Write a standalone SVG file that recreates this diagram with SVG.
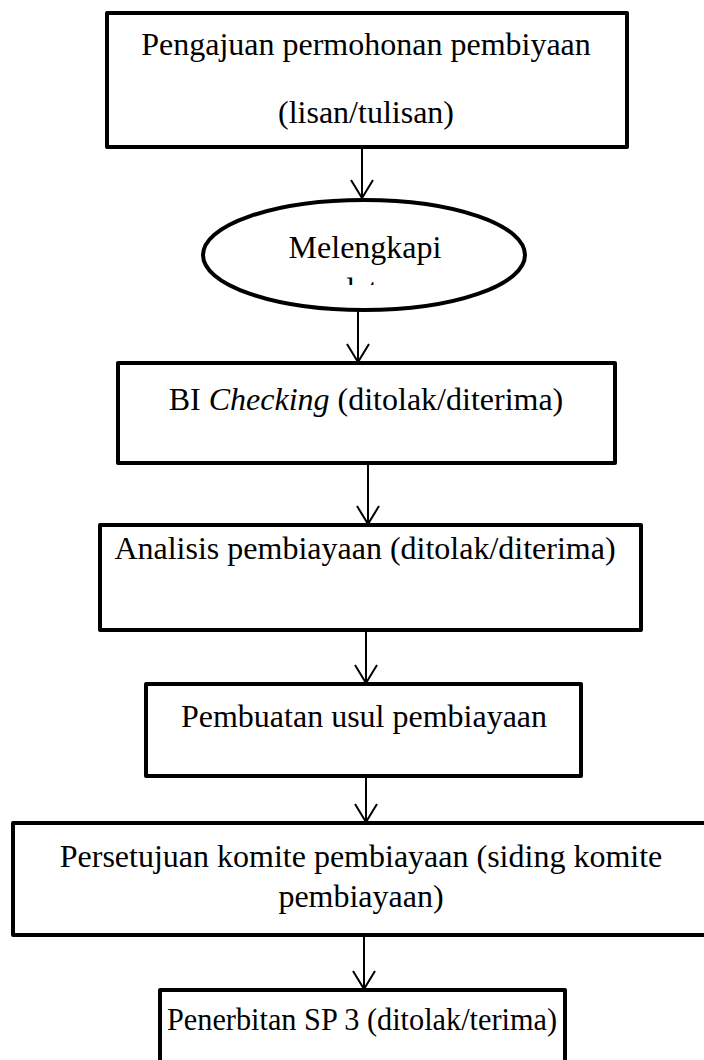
<svg xmlns="http://www.w3.org/2000/svg" width="704" height="1060" viewBox="0 0 704 1060">
<style>
.box{fill:#fff;stroke:#000;stroke-width:4;stroke-linejoin:round}
.t{font-family:"Liberation Serif","Times New Roman",serif;font-size:32px;fill:#000;text-anchor:middle}
.c{stroke:#000;stroke-width:2;fill:none}
</style>
<defs>
<marker id="ah" markerWidth="20" markerHeight="24" refX="18" refY="11" orient="auto" markerUnits="userSpaceOnUse" viewBox="0 0 20 22" overflow="visible">
<path d="M0,0 L18,11 L0,22" fill="none" stroke="#000" stroke-width="2"/>
</marker>
<clipPath id="ellclip"><rect x="200" y="200" width="330" height="85"/></clipPath>
</defs>
<rect width="704" height="1060" fill="#fff"/>
<g id="connectors">
<line class="c" x1="362" y1="149" x2="362" y2="198" marker-end="url(#ah)"/>
<line class="c" x1="358" y1="310" x2="358" y2="362" marker-end="url(#ah)"/>
<line class="c" x1="368" y1="465" x2="368" y2="524" marker-end="url(#ah)"/>
<line class="c" x1="366" y1="630" x2="366" y2="683" marker-end="url(#ah)"/>
<line class="c" x1="366" y1="776" x2="366" y2="822" marker-end="url(#ah)"/>
<line class="c" x1="364" y1="935" x2="364" y2="989" marker-end="url(#ah)"/>
</g>
<g id="n1">
<rect class="box" x="107" y="13" width="520" height="134"/>
<text class="t" x="366" y="55">Pengajuan permohonan pembiyaan</text>
<text class="t" x="366" y="123">(lisan/tulisan)</text>
</g>
<g id="n2">
<ellipse class="box" cx="364" cy="255" rx="161" ry="55" stroke-width="5"/>
<text class="t" x="365" y="258">Melengkapi</text>
<text class="t" x="365" y="300" clip-path="url(#ellclip)">data</text>
</g>
<g id="n3">
<rect class="box" x="118" y="363" width="497" height="100"/>
<text class="t" x="366" y="410">BI <tspan font-style="italic">Checking</tspan> (ditolak/diterima)</text>
</g>
<g id="n4">
<rect class="box" x="100" y="525" width="541" height="105"/>
<text class="t" x="365" y="559">Analisis pembiayaan (ditolak/diterima)</text>
</g>
<g id="n5">
<rect class="box" x="146" y="684" width="435" height="92"/>
<text class="t" x="364" y="727">Pembuatan usul pembiayaan</text>
</g>
<g id="n6">
<rect class="box" x="13" y="823" width="700" height="112"/>
<text class="t" x="361" y="867">Persetujuan komite pembiayaan (siding komite</text>
<text class="t" x="361" y="907">pembiayaan)</text>
</g>
<g id="n7">
<rect class="box" x="160" y="990" width="405" height="90"/>
<text class="t" x="362" y="1030" textLength="390" lengthAdjust="spacingAndGlyphs">Penerbitan SP 3 (ditolak/terima)</text>
</g>
</svg>
